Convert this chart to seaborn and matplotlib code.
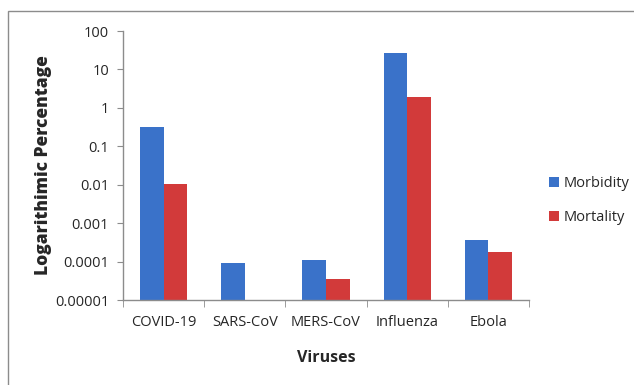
import numpy as np
import pandas as pd
import matplotlib
matplotlib.use("Agg")
import matplotlib.pyplot as plt
import seaborn as sns
from matplotlib.patches import Rectangle

viruses = ["COVID-19", "SARS-CoV", "MERS-CoV", "Influenza", "Ebola"]
morbidity = [0.32, 0.00009, 0.00011, 27.0, 0.00036]
mortality = [0.0105, np.nan, 0.000035, 1.9, 0.00018]
y_ticks = [0.00001, 0.0001, 0.001, 0.01, 0.1, 1, 10, 100]
y_tick_labels = ["0.00001", "0.0001", "0.001", "0.01", "0.1", "1", "10", "100"]

df = pd.DataFrame({
    "Virus": viruses * 2,
    "Measure": ["Morbidity"] * len(viruses) + ["Mortality"] * len(viruses),
    "Value": morbidity + mortality,
})

sns.set_style("white")
plt.rcParams["font.family"] = ["Open Sans", "DejaVu Sans"]

fig = plt.figure(figsize=(6.34, 3.85), dpi=100)
ax = fig.add_axes([123 / 634, 1 - 300 / 385, (529 - 123) / 634, (300 - 31) / 385])

# outer chart-area frame
fig.patches.append(Rectangle((8 / 634, -0.05), 1.2, 1 - 11 / 385 + 0.05,
                             transform=fig.transFigure, fill=False,
                             edgecolor="#8c8c8c", linewidth=1.0))

sns.barplot(data=df, x="Virus", y="Value", hue="Measure",
            palette=["#3a72c9", "#d23a3a"], saturation=1, width=0.58, gap=0,
            edgecolor="none", ax=ax, legend=True)

ax.set_yscale("log")
ax.set_ylim(1e-5, 100)
ax.set_xlim(-0.5, len(viruses) - 0.5)
ax.set_yticks(y_ticks)
ax.set_yticklabels(y_tick_labels)
ax.minorticks_off()
ax.tick_params(axis="y", which="major", length=4, color="#8c8c8c",
               labelsize=10.5, pad=6, left=True, direction="out")
ax.set_xticks(range(len(viruses)))
ax.set_xticklabels(viruses)
ax.tick_params(axis="x", which="major", length=0, labelsize=10.5, pad=11)
ax.set_xticks(np.arange(-0.5, len(viruses)), minor=True)
ax.tick_params(axis="x", which="minor", length=5, color="#8c8c8c",
               bottom=True, direction="out")

for side in ["top", "right"]:
    ax.spines[side].set_visible(False)
for side in ["left", "bottom"]:
    ax.spines[side].set_color("#8c8c8c")
    ax.spines[side].set_linewidth(1.0)

ax.set_xlabel("Viruses", fontsize=11.5, fontweight="bold", labelpad=14)
ax.set_ylabel("Logarithimic Percentage", fontsize=12.5, fontweight="heavy", labelpad=2)

leg = ax.legend(loc="upper left", bbox_to_anchor=(549 / 634, 1 - 176 / 385),
                bbox_transform=fig.transFigure, frameon=False, borderpad=0,
                borderaxespad=0, fontsize=10.5, handlelength=0.7, handleheight=0.7,
                handletextpad=0.3, labelspacing=1.3)

fig.savefig("out.png", dpi=100)
